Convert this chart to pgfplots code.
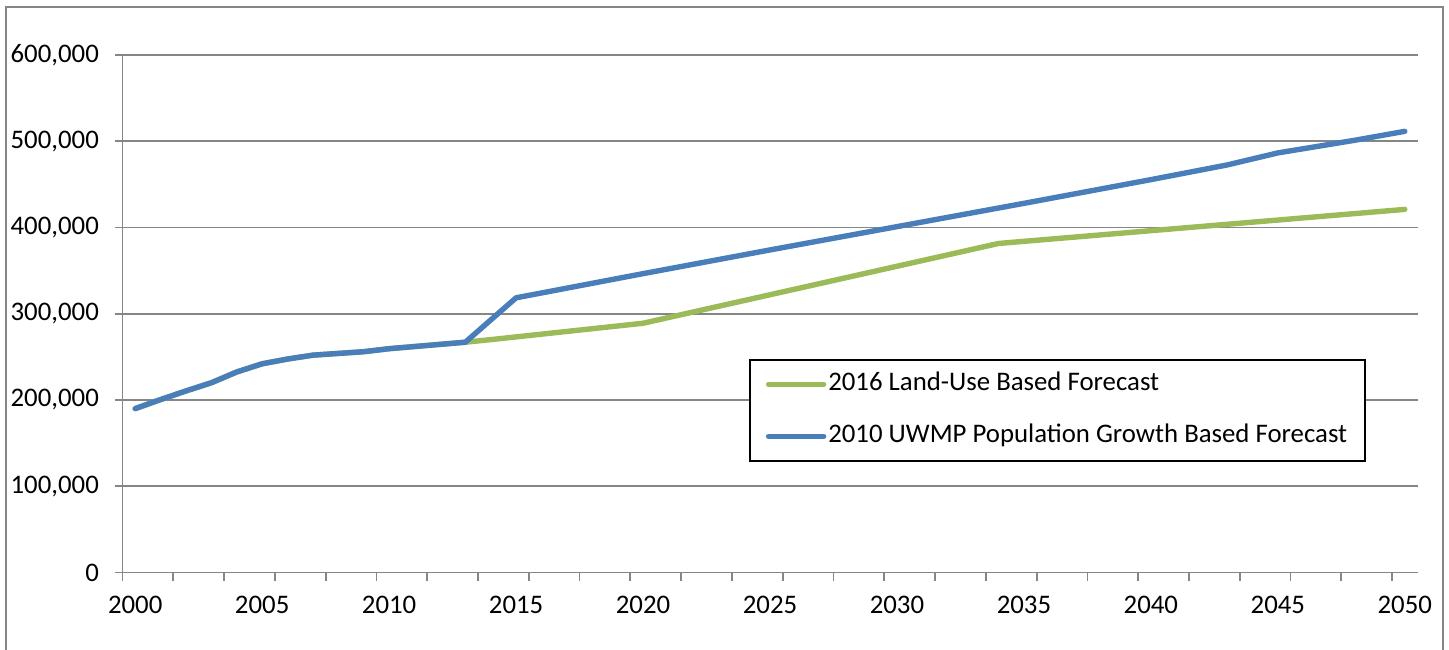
\documentclass[border=0pt]{standalone}
\usepackage{pgfplots}
\pgfplotsset{compat=1.18}
\usepackage{fontspec}
\setmainfont{Carlito}
\definecolor{gridgray}{HTML}{868686}
\definecolor{lgreen}{HTML}{9BBB59}
\definecolor{lblue}{HTML}{4A7EBB}

\pgfplotstableread{
year value
2000 190000
2001 200500
2002 210500
2003 220000
2004 232500
2005 242000
2006 247500
2007 252000
2008 254000
2009 256000
2010 259500
2011 262000
2012 264500
2013 267000
2014 270000
2020 289000
2034 381500
2050 421000
}\landuse

\pgfplotstableread{
year value
2000 190000
2001 200500
2002 210500
2003 220000
2004 232500
2005 242000
2006 247500
2007 252000
2008 254000
2009 256000
2010 259500
2011 262000
2012 264500
2013 267000
2015 318500
2020 346500
2025 374000
2030 401000
2035 428000
2040 455500
2043 472500
2045 486500
2048 501000
2050 511500
}\uwmp

\begin{document}
\begin{tikzpicture}
\useasboundingbox (0,0) rectangle (724.5pt,324.5pt);
\draw[gridgray, line width=0.9pt] (3pt,-2pt) -- (3pt,321pt) -- (721.5pt,321pt) -- (721.5pt,-2pt);
\begin{axis}[
  at={(61.25pt,38.25pt)}, anchor=south west,
  scale only axis, width=647.5pt, height=258.75pt,
  xmin=1999.5, xmax=2050.5, ymin=0, ymax=600000,
  axis lines=left,
  axis line style={-, draw=gridgray, line width=0.9pt},
  font=\fontsize{13.4pt}{16pt}\selectfont,
  tick align=outside,
  major tick length=4pt,
  tick style={gridgray, line width=0.9pt},
  xtick={1999.5,2001.5,...,2049.5},
  xticklabels={},
  extra x ticks={2000,2005,2010,2015,2020,2025,2030,2035,2040,2045,2050},
  extra x tick labels={2000,2005,2010,2015,2020,2025,2030,2035,2040,2045,2050},
  extra x tick style={major tick length=0pt, grid=none, xticklabel style={yshift=-8.3pt}},
  ytick={0,100000,200000,300000,400000,500000,600000},
  ymajorgrids,
  grid style={gridgray, line width=0.9pt},
  scaled y ticks=false,
  yticklabel style={xshift=-4.3pt, /pgf/number format/fixed, /pgf/number format/1000 sep={,}, /pgf/number format/assume math mode=true},
  legend style={at={(0.4838,0.4126)}, anchor=north west, draw=black, line width=0.9pt,
    inner xsep=8pt, inner ysep=6pt, row sep=13.5pt,
    nodes={inner xsep=1pt, inner ysep=0pt, text height=9.5pt, text depth=3pt},
    font=\fontsize{13.4pt}{16pt}\selectfont},
  legend cell align=left,
  legend image code/.code={\draw[#1] (0pt,0pt) -- (27.5pt,0pt);},
]
\addplot[lgreen, line width=2.7pt, line cap=round, line join=round, no markers] table[x=year, y=value] {\landuse};
\addlegendentry{2016 Land-Use Based Forecast}
\addplot[lblue, line width=2.7pt, line cap=round, line join=round, no markers] table[x=year, y=value] {\uwmp};
\addlegendentry{2010 UWMP Population Growth Based Forecast}
\end{axis}
\end{tikzpicture}
\end{document}
